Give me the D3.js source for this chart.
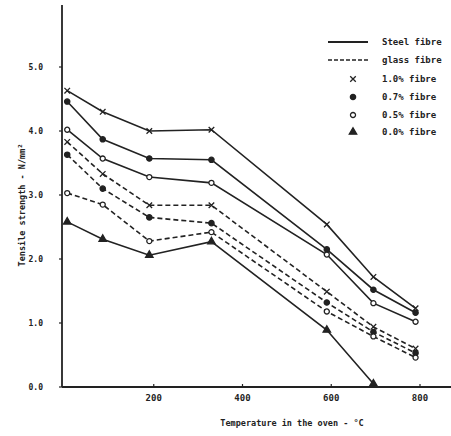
<!DOCTYPE html>
<html>
<head>
<meta charset="utf-8">
<script src="https://cdn.jsdelivr.net/npm/d3@7"></script>
<style>
  body { margin: 0; background: #fff; }
  svg text { font-family: "DejaVu Sans Mono", "Liberation Mono", monospace; font-weight: bold; fill: #222; }
</style>
</head>
<body>
<svg id="chart" width="451" height="436"></svg>
<script>
// oven temperatures (deg C) at which specimens were tested
const temps = [5, 85, 190, 330, 590, 695, 790];

// tensile strength, N/mm2
const steel10 = [4.63, 4.30, 4.00, 4.02, 2.54, 1.72, 1.23];
const steel07 = [4.46, 3.87, 3.57, 3.55, 2.15, 1.52, 1.16];
const steel05 = [4.02, 3.57, 3.28, 3.19, 2.07, 1.31, 1.02];
const glass10 = [3.83, 3.33, 2.84, 2.84, 1.49, 0.94, 0.60];
const glass07 = [3.63, 3.10, 2.65, 2.56, 1.32, 0.86, 0.53];
const glass05 = [3.03, 2.85, 2.28, 2.42, 1.18, 0.79, 0.46];
const plain00 = [2.58, 2.31, 2.06, 2.27, 0.89, 0.05];

const xTicks = [200, 400, 600, 800];
const yTicks = [0, 1, 2, 3, 4, 5];

const legendRows = ["Steel fibre", "glass fibre", "1.0% fibre", "0.7% fibre", "0.5% fibre", "0.0% fibre"];

const svg = d3.select("#chart");
const x = d3.scaleLinear().domain([0, 800]).range([65, 420]);
const y = d3.scaleLinear().domain([0, 5]).range([387, 67]);

// marker kinds
const markers = {
  cross:  { type: d3.symbolTimes,    size: 22, fill: "none", stroke: "#222" },
  dot:    { type: d3.symbolCircle,   size: 22, fill: "#222", stroke: "#222" },
  ring:   { type: d3.symbolCircle,   size: 20, fill: "#fff", stroke: "#222" },
  tri:    { type: d3.symbolTriangle, size: 24, fill: "#222", stroke: "#222" }
};

const series = [
  { vals: steel10, dash: null,  mark: "cross" },
  { vals: steel07, dash: null,  mark: "dot" },
  { vals: steel05, dash: null,  mark: "ring" },
  { vals: glass10, dash: "5,3", mark: "cross" },
  { vals: glass07, dash: "5,3", mark: "dot" },
  { vals: glass05, dash: "5,3", mark: "ring" },
  { vals: plain00, dash: null,  mark: "tri" }
];

// axes
const yAxis = svg.append("g").attr("transform", "translate(62,0)");
yAxis.append("line").attr("x1", 0).attr("x2", 0).attr("y1", 5).attr("y2", y(0))
  .attr("stroke", "#222").attr("stroke-width", 1.8);
yAxis.selectAll(".yt").data(yTicks).enter().append("line")
  .attr("x1", -3).attr("x2", 0).attr("y1", d => y(d)).attr("y2", d => y(d))
  .attr("stroke", "#222").attr("stroke-width", 1.2);
yAxis.selectAll(".yl").data(yTicks).enter().append("text")
  .attr("x", -19).attr("y", d => y(d) + 3).attr("text-anchor", "end")
  .attr("font-size", 8).text(d => d.toFixed(1));

const xAxis = svg.append("g").attr("transform", `translate(0,${y(0)})`);
xAxis.append("line").attr("x1", 62).attr("x2", 451).attr("y1", 0).attr("y2", 0)
  .attr("stroke", "#222").attr("stroke-width", 1.8);
xAxis.selectAll(".xt").data(xTicks).enter().append("line")
  .attr("x1", d => x(d)).attr("x2", d => x(d)).attr("y1", -3).attr("y2", 0)
  .attr("stroke", "#222").attr("stroke-width", 1.2);
xAxis.selectAll(".xl").data(xTicks).enter().append("text")
  .attr("x", d => x(d)).attr("y", 14).attr("text-anchor", "middle")
  .attr("font-size", 9).text(d => d);

svg.append("text").attr("x", 292).attr("y", 426).attr("text-anchor", "middle")
  .attr("font-size", 8.5).text("Temperature in the oven - \u00B0C");
svg.append("text").attr("transform", "translate(25,205) rotate(-90)")
  .attr("text-anchor", "middle").attr("font-size", 8.5)
  .text("Tensile strength - N/mm\u00B2");

// lines + markers
const line = d3.line().x((d, i) => x(temps[i])).y(d => y(d));
series.forEach(s => {
  svg.append("path").datum(s.vals).attr("d", line)
    .attr("fill", "none").attr("stroke", "#222").attr("stroke-width", 1.6)
    .attr("stroke-dasharray", s.dash);
  const m = markers[s.mark];
  svg.selectAll(null).data(s.vals).enter().append("path")
    .attr("transform", (d, i) => `translate(${x(temps[i])},${y(d)})`)
    .attr("d", d3.symbol().type(m.type).size(m.size))
    .attr("fill", m.fill).attr("stroke", m.stroke).attr("stroke-width", 1.3);
});

// legend
const lg = svg.append("g");
const rowY = [42, 60, 79, 97, 115, 132];
lg.append("line").attr("x1", 328).attr("x2", 368).attr("y1", rowY[0]).attr("y2", rowY[0])
  .attr("stroke", "#222").attr("stroke-width", 1.8);
lg.append("line").attr("x1", 328).attr("x2", 368).attr("y1", rowY[1]).attr("y2", rowY[1])
  .attr("stroke", "#222").attr("stroke-width", 1.5).attr("stroke-dasharray", "4,2");
["cross", "dot", "ring", "tri"].forEach((k, i) => {
  const m = markers[k];
  lg.append("path").attr("transform", `translate(353,${rowY[i + 2]})`)
    .attr("d", d3.symbol().type(m.type).size(m.size))
    .attr("fill", m.fill).attr("stroke", m.stroke).attr("stroke-width", 1.3);
});
lg.selectAll(".lt").data(legendRows).enter().append("text")
  .attr("x", 382).attr("y", (d, i) => rowY[i] + 3).attr("font-size", 9).text(d => d);
</script>
</body>
</html>
